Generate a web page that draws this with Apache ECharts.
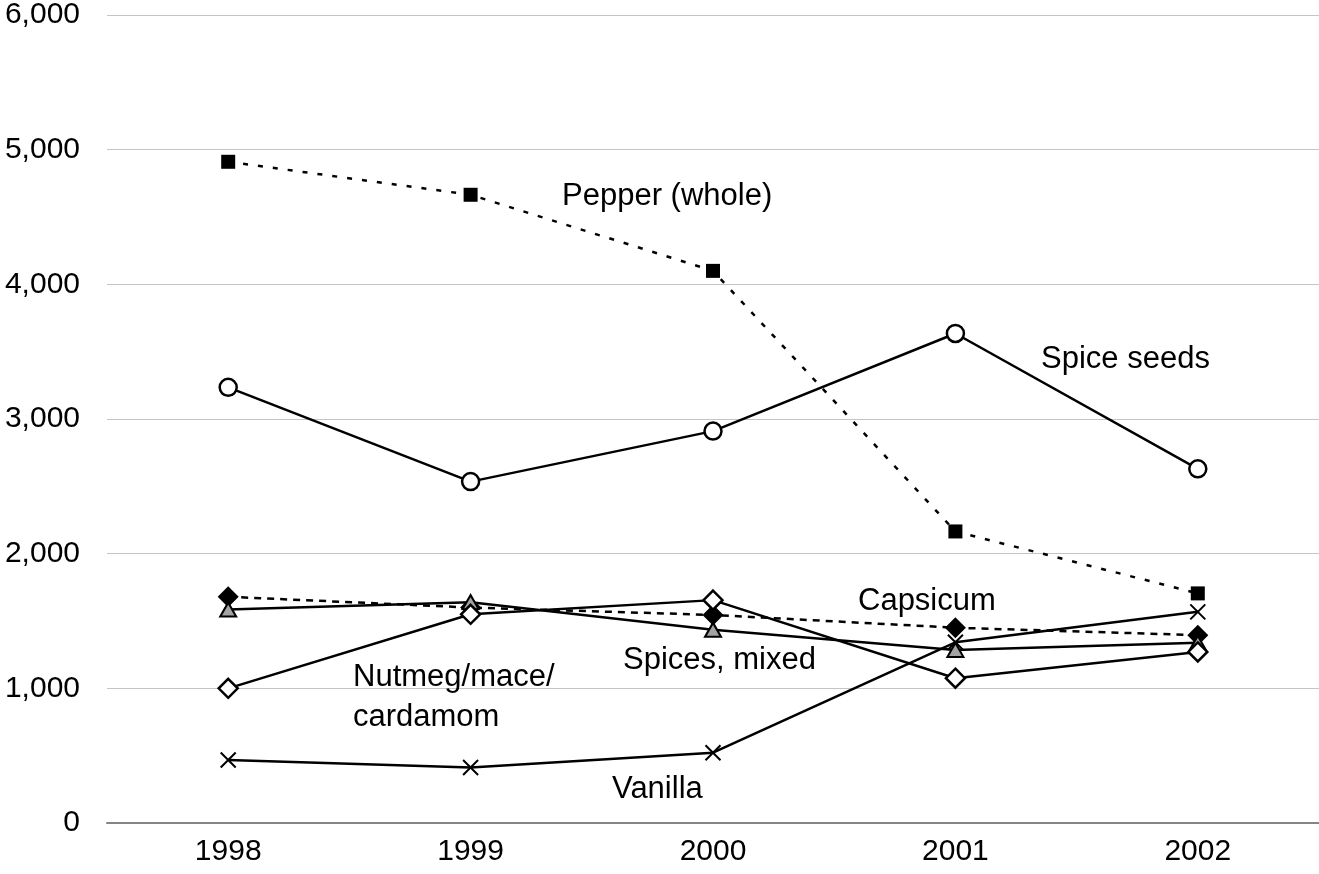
<!DOCTYPE html>
<html>
<head>
<meta charset="utf-8">
<script src="https://cdn.jsdelivr.net/npm/echarts@6/dist/echarts.min.js"></script>
<style>
  html, body { margin: 0; padding: 0; background: #fff; }
  #chart { width: 1319px; height: 874px; }
</style>
</head>
<body>
<div id="chart"></div>
<script>
// Spice volumes by year, one array per product
const years = ['1998', '1999', '2000', '2001', '2002'];
const pepperWhole = [4910, 4665, 4100, 2165, 1705];
const spiceSeeds = [3235, 2535, 2910, 3635, 2630];
const capsicum = [1680, 1600, 1545, 1450, 1395];
const spicesMixed = [1585, 1640, 1435, 1285, 1338];
const nutmegMaceCardamom = [1000, 1550, 1655, 1075, 1270];
const vanilla = [468, 412, 522, 1342, 1568];
const yTicks = { min: 0, max: 6000, step: 1000 };

const FONT = '"Liberation Sans", Arial, sans-serif';
const INK = '#000';

function seriesOf(name, data, symbol, size, item, lineType) {
  return {
    name: name,
    type: 'line',
    data: data,
    symbol: symbol,
    symbolSize: size,
    showAllSymbol: true,
    itemStyle: item,
    lineStyle: { color: INK, width: 2.5, type: lineType || 'solid' },
    emphasis: { disabled: true }
  };
}

const chart = echarts.init(document.getElementById('chart'), null, { renderer: 'canvas' });

// labels placed next to each line (left edge, vertical centre)
const notes = [
  { text: 'Pepper (whole)', x: 562, y: 196 },
  { text: 'Spice seeds', x: 1041, y: 359 },
  { text: 'Capsicum', x: 858, y: 601 },
  { text: 'Spices, mixed', x: 623, y: 660 },
  { text: 'Nutmeg/mace/\ncardamom', x: 353, y: 697 },
  { text: 'Vanilla', x: 612, y: 789 }
];

chart.setOption({
  animation: false,
  backgroundColor: '#fff',
  grid: { left: 107, right: -2, top: 15, bottom: 51, containLabel: false },
  xAxis: {
    type: 'category',
    data: years,
    boundaryGap: true,
    axisLine: { show: true, lineStyle: { color: '#858585', width: 2 } },
    axisTick: { show: false },
    axisLabel: { color: INK, fontFamily: FONT, fontSize: 30, margin: 14 },
    splitLine: { show: false }
  },
  yAxis: {
    type: 'value',
    min: yTicks.min,
    max: yTicks.max,
    interval: yTicks.step,
    axisLine: { show: false },
    axisTick: { show: false },
    axisLabel: {
      color: INK, fontFamily: FONT, fontSize: 30, margin: 27,
      formatter: v => v.toLocaleString('en-US')
    },
    splitLine: { show: true, lineStyle: { color: '#c4c4c4', width: 1 } }
  },
  series: [
    seriesOf('Pepper (whole)', pepperWhole, 'rect', 14,
      { color: INK, borderColor: INK, borderWidth: 0 }, [5, 10]),
    seriesOf('Spice seeds', spiceSeeds, 'circle', 17,
      { color: '#fff', borderColor: INK, borderWidth: 2.5 }),
    seriesOf('Capsicum', capsicum, 'diamond', 21,
      { color: INK, borderColor: INK, borderWidth: 0 }, [7, 6]),
    seriesOf('Spices, mixed', spicesMixed, 'triangle', [16, 14],
      { color: '#a3a3a3', borderColor: INK, borderWidth: 2 }),
    seriesOf('Nutmeg/mace/cardamom', nutmegMaceCardamom, 'diamond', 19,
      { color: '#fff', borderColor: INK, borderWidth: 2.5 }),
    seriesOf('Vanilla', vanilla, 'path://M0,0L10,10M10,0L0,10', 15,
      { color: 'none', borderColor: INK, borderWidth: 2 })
  ],
  graphic: notes.map(n => ({
    type: 'text',
    x: n.x,
    y: n.y,
    silent: true,
    z: 100,
    style: {
      text: n.text,
      fill: INK,
      font: '31px ' + FONT,
      lineHeight: 40,
      align: 'left',
      verticalAlign: 'middle'
    }
  }))
});
</script>
</body>
</html>
